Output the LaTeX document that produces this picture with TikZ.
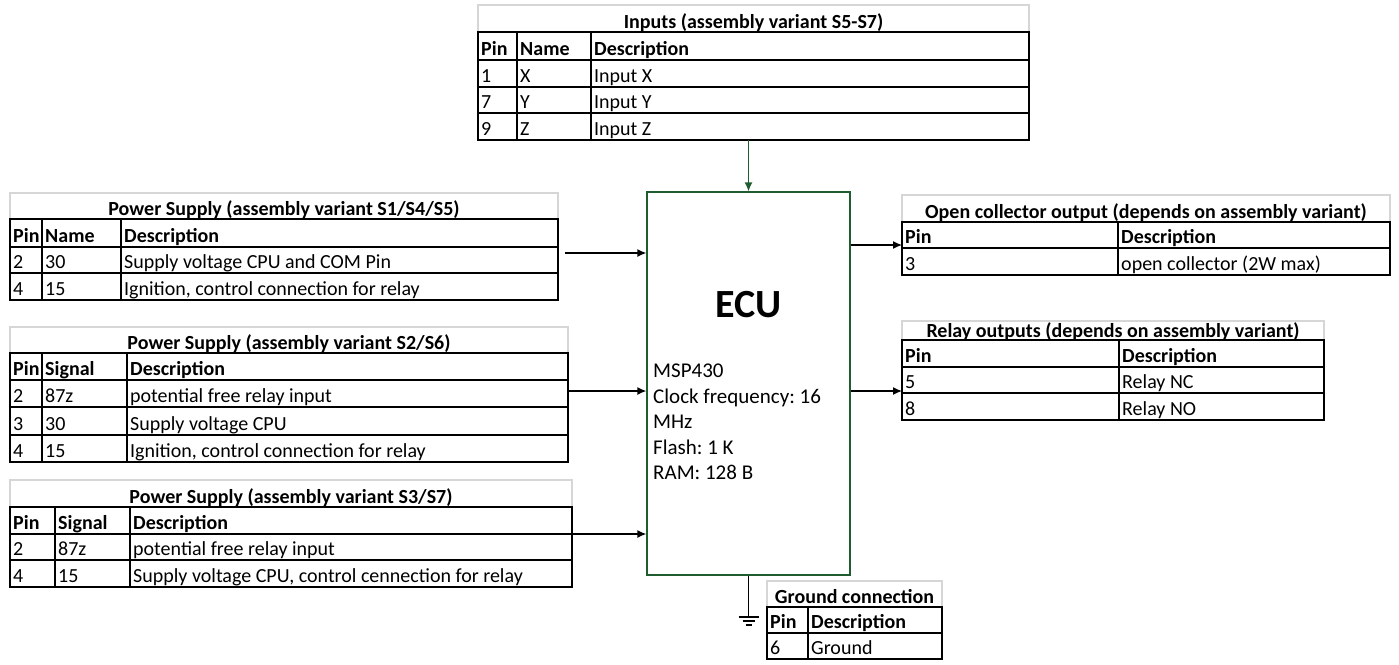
\documentclass[tikz,border=0pt]{standalone}
\usepackage{fontspec}
\setmainfont{Carlito}
\usetikzlibrary{arrows.meta,calc}
\definecolor{ecugreen}{HTML}{1F5C2F}
\definecolor{headgray}{HTML}{D6D6D6}
\frenchspacing

\begin{document}
\begin{tikzpicture}[x=1pt,y=-1pt,
  every node/.style={inner sep=0pt,font=\fontsize{20}{24}\selectfont},
  cell/.style={anchor=base west},
  colhead/.style={anchor=base west,font=\fontsize{20}{24}\selectfont\bfseries},
  ttl/.style={anchor=base,font=\fontsize{20}{24}\selectfont\bfseries},
  tabline/.style={line width=2.4pt},
  hdrbox/.style={draw=headgray,line width=2pt},
  wire/.style={line width=1.3pt,-{Latex[length=9pt,width=8pt]}}]
\useasboundingbox (0,0) rectangle (1399,664);

% ECU block
\node[draw=ecugreen,line width=1.3pt,minimum width=203pt,minimum height=383pt] (ecu) at (748.5,383.5) {};
\node[font=\fontsize{40}{48}\selectfont\bfseries] (ecu-name) at (748.5,305) {ECU};
\node[anchor=north west,align=left,font=\fontsize{21}{25.5}\selectfont] (ecu-info) at (653,364) {MSP430\\Clock frequency: 16\\MHz\\Flash: 1 K\\RAM: 128 B};

% Inputs
\draw[hdrbox] (478,5) rectangle (1029,32);
\draw[tabline] (478,32) rectangle (1029,140);
\draw[tabline] (478,60) -- (1029,60) (478,87) -- (1029,87) (478,113) -- (1029,113);
\draw[tabline] (517,32) -- (517,140) (591,32) -- (591,140);
\node[ttl] (in-ttl) at (753.5,28) {Inputs (assembly variant S5-S7)};
\node[colhead] (in-pin) at (481,55) {Pin};
\node[colhead] (in-name) at (520,55) {Name};
\node[colhead] (in-desc) at (594,55) {Description};
\node[cell] (in-p1) at (481,82) {1};
\node[cell] (in-n1) at (520,82) {X};
\node[cell] (in-d1) at (594,82) {Input X};
\node[cell] (in-p2) at (481,108) {7};
\node[cell] (in-n2) at (520,108) {Y};
\node[cell] (in-d2) at (594,108) {Input Y};
\node[cell] (in-p3) at (481,135) {9};
\node[cell] (in-n3) at (520,135) {Z};
\node[cell] (in-d3) at (594,135) {Input Z};

% Power supply S1/S4/S5
\draw[hdrbox] (10,193) rectangle (558,219);
\draw[tabline] (10,219) rectangle (558,300);
\draw[tabline] (10,247) -- (558,247) (10,273) -- (558,273);
\draw[tabline] (42,219) -- (42,300) (121,219) -- (121,300);
\node[ttl] (psa-ttl) at (284,215) {Power Supply (assembly variant S1/S4/S5)};
\node[colhead] (psa-pin) at (13,242) {Pin};
\node[colhead] (psa-name) at (45,242) {Name};
\node[colhead] (psa-desc) at (124,242) {Description};
\node[cell] (psa-p1) at (13,268) {2};
\node[cell] (psa-n1) at (45,268) {30};
\node[cell] (psa-d1) at (124,268) {Supply voltage CPU and COM Pin};
\node[cell] (psa-p2) at (13,295) {4};
\node[cell] (psa-n2) at (45,295) {15};
\node[cell] (psa-d2) at (124,295) {Ignition, control connection for relay};

% Power supply S2/S6
\draw[hdrbox] (10,327) rectangle (568,353);
\draw[tabline] (10,353) rectangle (568,462);
\draw[tabline] (10,380) -- (568,380) (10,407) -- (568,407) (10,435) -- (568,435);
\draw[tabline] (42,353) -- (42,462) (127,353) -- (127,462);
\node[ttl] (psb-ttl) at (289,349) {Power Supply (assembly variant S2/S6)};
\node[colhead] (psb-pin) at (13,375) {Pin};
\node[colhead] (psb-sig) at (45,375) {Signal};
\node[colhead] (psb-desc) at (130,375) {Description};
\node[cell] (psb-p1) at (13,402) {2};
\node[cell] (psb-s1) at (45,402) {87z};
\node[cell] (psb-d1) at (130,402) {potential free relay input};
\node[cell] (psb-p2) at (13,430) {3};
\node[cell] (psb-s2) at (45,430) {30};
\node[cell] (psb-d2) at (130,430) {Supply voltage CPU};
\node[cell] (psb-p3) at (13,457) {4};
\node[cell] (psb-s3) at (45,457) {15};
\node[cell] (psb-d3) at (130,457) {Ignition, control connection for relay};

% Power supply S3/S7
\draw[hdrbox] (10,480) rectangle (572,507);
\draw[tabline] (10,507) rectangle (572,587);
\draw[tabline] (10,534) -- (572,534) (10,560) -- (572,560);
\draw[tabline] (55,507) -- (55,587) (130,507) -- (130,587);
\node[ttl] (psc-ttl) at (291,503) {Power Supply (assembly variant S3/S7)};
\node[colhead] (psc-pin) at (13,529) {Pin};
\node[colhead] (psc-sig) at (58,529) {Signal};
\node[colhead] (psc-desc) at (133,529) {Description};
\node[cell] (psc-p1) at (13,555) {2};
\node[cell] (psc-s1) at (58,555) {87z};
\node[cell] (psc-d1) at (133,555) {potential free relay input};
\node[cell] (psc-p2) at (13,582) {4};
\node[cell] (psc-s2) at (58,582) {15};
\node[cell] (psc-d2) at (133,582) {Supply voltage CPU, control cennection for relay};

% Open collector output
\draw[hdrbox] (902,195) rectangle (1390,222);
\draw[tabline] (902,222) rectangle (1390,275);
\draw[tabline] (902,248) -- (1390,248);
\draw[tabline] (1118,222) -- (1118,275);
\node[ttl] (oc-ttl) at (1146,218) {Open collector output (depends on assembly variant)};
\node[colhead] (oc-pin) at (905,243) {Pin};
\node[colhead] (oc-desc) at (1121,243) {Description};
\node[cell] (oc-p1) at (905,270) {3};
\node[cell] (oc-d1) at (1121,270) {open collector (2W max)};

% Relay outputs
\draw[hdrbox] (902,321) rectangle (1324,340);
\draw[tabline] (902,340) rectangle (1324,420);
\draw[tabline] (902,367) -- (1324,367) (902,393) -- (1324,393);
\draw[tabline] (1119,340) -- (1119,420);
\node[ttl] (ro-ttl) at (1113,337) {Relay outputs (depends on assembly variant)};
\node[colhead] (ro-pin) at (905,362) {Pin};
\node[colhead] (ro-desc) at (1122,362) {Description};
\node[cell] (ro-p1) at (905,388) {5};
\node[cell] (ro-d1) at (1122,388) {Relay NC};
\node[cell] (ro-p2) at (905,415) {8};
\node[cell] (ro-d2) at (1122,415) {Relay NO};

% Ground connection
\draw[hdrbox] (767,581) rectangle (942,607);
\draw[tabline] (767,607) rectangle (942,659);
\draw[tabline] (767,633) -- (942,633);
\draw[tabline] (808,607) -- (808,659);
\node[ttl] (gc-ttl) at (854.5,603) {Ground connection};
\node[colhead] (gc-pin) at (770,628) {Pin};
\node[colhead] (gc-desc) at (811,628) {Description};
\node[cell] (gc-p1) at (770,654) {6};
\node[cell] (gc-d1) at (811,654) {Ground};

% connections
\coordinate (in-out) at (748.5,140);
\coordinate (psa-out) at (565,253);
\coordinate (psb-out) at (568,391);
\coordinate (psc-out) at (572,534);
\coordinate (oc-in) at (902,245);
\coordinate (ro-in) at (902,391);
\coordinate (gnd) at (748.5,617);
\draw[wire,ecugreen] (in-out) -- (ecu.north);
\draw[wire] (psa-out) -- (psa-out -| ecu.west);
\draw[wire] (psb-out) -- (psb-out -| ecu.west);
\draw[wire] (psc-out) -- (psc-out -| ecu.west);
\draw[wire] (oc-in -| ecu.east) -- (oc-in);
\draw[wire] (ro-in -| ecu.east) -- (ro-in);
\draw[line width=1.2pt] (ecu.south) -- (gnd);
\draw[line width=1.2pt] ($(gnd)+(-10,0)$) -- ($(gnd)+(10,0)$);
\draw[line width=1.2pt] ($(gnd)+(-6,4)$) -- ($(gnd)+(6,4)$);
\draw[line width=1.2pt] ($(gnd)+(-3,8)$) -- ($(gnd)+(3,8)$);
\end{tikzpicture}
\end{document}
